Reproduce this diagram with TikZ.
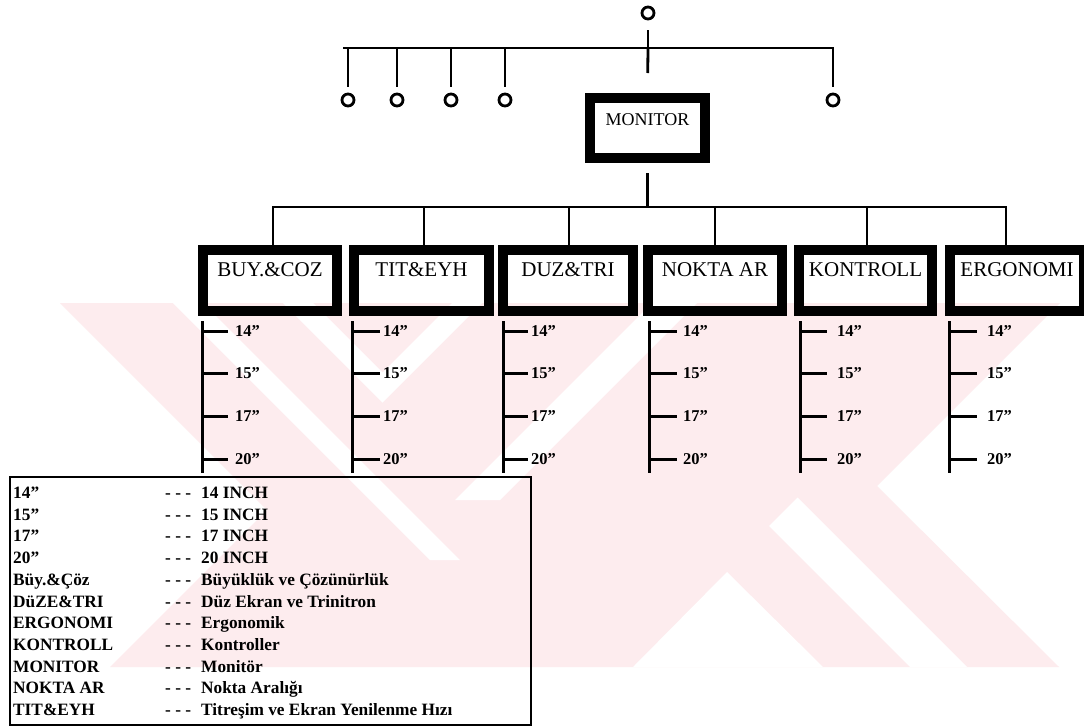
\documentclass[tikz,border=0pt]{standalone}
\usepackage{fontspec}
\setmainfont{Liberation Serif}
\usetikzlibrary{calc}
\definecolor{wm}{RGB}{253,236,238}
\newcommand{\mycatfont}{\fontsize{21}{24}\selectfont}
\newcommand{\mymonfont}{\fontsize{18}{21}\selectfont}
\newcommand{\myladfont}{\fontsize{16.5}{18}\selectfont\bfseries}
\newcommand{\mylegfont}{\fontsize{17.3}{20}\selectfont\bfseries}
\begin{document}
\begin{tikzpicture}[x=1pt,y=-1pt,
  conn/.style={line width=2.8pt},
  ring/.style={circle,draw,line width=2.8pt,minimum size=12pt,inner sep=0pt},
  catbox/.style={draw,line width=10pt,minimum height=61pt,inner sep=0pt,font=\mycatfont,text height=14pt,text depth=22pt},
  monbox/.style={draw,line width=10pt,minimum width=115pt,minimum height=60pt,inner sep=0pt,font=\mymonfont,text height=12pt,text depth=18pt},
  ladder/.style={line width=3pt},
  tickln/.style={line width=3pt},
  ladlab/.style={anchor=west,inner sep=0pt,font=\myladfont},
  legtext/.style={anchor=base west,inner sep=0pt,font=\mylegfont},
  legbox/.style={draw,line width=2pt,inner sep=0pt},
  wmark/.style={fill=wm,draw=none},
  wgap/.style={fill=white,draw=none}]
\useasboundingbox (0,0) rectangle (1084,728);
\fill[white] (0,0) rectangle (1084,728);
% faint watermark
\fill[wmark] (60,303) -- (1060,303) -- (877,486) -- (1059,667) -- (110,667) -- (267,510) -- cycle;
\fill[wgap] (633,667) -- (727,572) -- (823,667) -- cycle;
\fill[wgap] (769,526) -- (797.5,497.5) -- (967,667) -- (910,667) -- cycle;
\fill[wgap] (283,303) -- (382.5,402.5) -- (482,303) -- (452,303) -- (382.5,372.5) -- (313,303) -- cycle;
\fill[wgap] (173,303) -- (203,303) -- (460,560) -- (430,560) -- cycle;
\fill[wgap] (652,303) -- (697,303) -- (500,500) -- (455,500) -- cycle;

% top level
\node[ring] (top) at (648,13) {};
\coordinate (tbusL) at (343,48);
\coordinate (tbusR) at (834,48);
\coordinate (tbusM) at (648,48);
\draw[conn] (tbusL) -- (tbusR);
\node[monbox] (mon) at (647.5,128) {MONITOR};
\draw[conn, shorten <=10pt] (top.south) -- (tbusM);
\draw[conn, shorten >=20pt] (tbusM) -- (mon.north);
\foreach \cx [count=\ci] in {348,397,451,505,833} {
  \node[ring] (c\ci) at (\cx,100) {};
  \draw[conn, shorten >=6pt] (c\ci |- tbusM) -- (c\ci.north);
}

% lower bus
\coordinate (lbusM) at (647.5,207);
\coordinate (lbusL) at (272,207);
\coordinate (lbusR) at (1007,207);
\draw[conn, shorten <=10pt] (mon.south) -- (lbusM);
\draw[conn] (lbusL) -- (lbusR);

% category boxes with size ladders
\foreach \bn/\blab/\bx/\bw/\bd/\blx/\bte/\blb in {
  b1/BUY.\&COZ/270/134/273/202/228/235,
  b2/TIT\&EYH/421.5/135/424/352/380/383,
  b3/DUZ\&TRI/568/130/569/503/528/531,
  b4/NOKTA AR/715/134/715/649/677/683,
  b5/KONTROLL/865.5/133/867/800/827/837,
  b6/ERGONOMI/1017/134/1006/949/977/987} {
  \node[catbox, minimum width=\bw pt] (\bn) at (\bx,280.5) {\blab};
  \coordinate (\bn-d) at (\bd,207);
  \draw[conn] (\bn-d) -- (\bn-d |- \bn.north);
  \coordinate (\bn-lt) at (\blx,321);
  \coordinate (\bn-lb) at (\blx,473);
  \draw[ladder] (\bn-lt) -- (\bn-lb);
  \pgfmathsetmacro{\gapw}{\blb-\bte}
  \foreach \ty/\tl in {331/14,373/15,416/17,459/20} {
    \node[ladlab] (\bn-\tl) at (\blb,\ty) {\tl”};
    \coordinate (\bn-t\tl) at (\blx,\ty);
    \draw[tickln, shorten >=\gapw pt] (\bn-t\tl) -- (\bn-\tl.west);
  }
}

% legend
\node[legbox, minimum width=521pt, minimum height=248pt] (legend) at (270.5,601) {};
\foreach \la/\lb [count=\k from 0] in {
  14”/14 INCH, 15”/15 INCH, 17”/17 INCH, 20”/20 INCH,
  Büy.\&Çöz/Büyüklük ve Çözünürlük,
  DüZE\&TRI/Düz Ekran ve Trinitron,
  ERGONOMI/Ergonomik,
  KONTROLL/Kontroller,
  MONITOR/Monitör,
  NOKTA AR/Nokta Aralığı,
  TIT\&EYH/Titreşim ve Ekran Yenilenme Hızı} {
  \pgfmathsetmacro{\yy}{498.5+21.7*\k}
  \node[legtext] (la\k) at (13,\yy) {\la};
  \node[legtext] (ld\k) at (165,\yy) {- - -};
  \node[legtext] (lb\k) at (201,\yy) {\lb};
}
\end{tikzpicture}
\end{document}
